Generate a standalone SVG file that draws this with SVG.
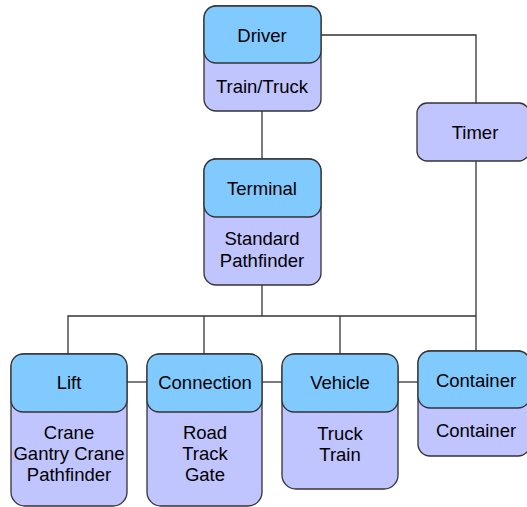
<svg xmlns="http://www.w3.org/2000/svg" width="527" height="507" viewBox="0 0 527 507">
<style>
.hd{fill:#80CAFF;stroke:#333;stroke-width:1.3}
.bd{fill:#C0C4FF;stroke:#333;stroke-width:1.3}
.ln{stroke:#333;stroke-width:1.3;fill:none}
text{font-family:"Liberation Sans",Arial,sans-serif;font-size:18.5px;fill:#000;text-anchor:middle;dominant-baseline:central}
</style>
<rect width="527" height="507" fill="#fff"/>
<g id="connectors">
<path class="ln" d="M321 35H476V103"/>
<path class="ln" d="M476 161V351"/>
<path class="ln" d="M262 111V159"/>
<path class="ln" d="M262 285V316"/>
<path class="ln" d="M68 354V316H476"/>
<path class="ln" d="M204 354V316"/>
<path class="ln" d="M340 354V316"/>
<path class="ln" d="M127 382H147"/>
<path class="ln" d="M262 382H282"/>
<path class="ln" d="M398 382H418"/>
</g>
<g id="driver">
<rect class="bd" x="204" y="6" width="117" height="105" rx="12"/>
<rect class="hd" x="204" y="6" width="117" height="57" rx="12"/>
<text x="262" y="35">Driver</text>
<text x="262" y="86">Train/Truck</text>
</g>
<g id="timer">
<rect class="bd" x="417" y="103" width="112" height="58" rx="10"/>
<text x="475" y="132">Timer</text>
</g>
<g id="terminal">
<rect class="bd" x="204" y="159" width="117" height="126" rx="12"/>
<rect class="hd" x="204" y="159" width="117" height="58" rx="12"/>
<text x="262" y="188">Terminal</text>
<text x="262" y="238">Standard</text>
<text x="262" y="260">Pathfinder</text>
</g>
<g id="lift">
<rect class="bd" x="11" y="354" width="116" height="152" rx="14"/>
<rect class="hd" x="11" y="354" width="116" height="58" rx="12"/>
<text x="69" y="382">Lift</text>
<text x="69" y="432">Crane</text>
<text x="69" y="453">Gantry Crane</text>
<text x="69" y="474">Pathfinder</text>
</g>
<g id="connection">
<rect class="bd" x="147" y="354" width="115" height="152" rx="14"/>
<rect class="hd" x="147" y="354" width="115" height="58" rx="12"/>
<text x="205" y="382">Connection</text>
<text x="205" y="432">Road</text>
<text x="205" y="453">Track</text>
<text x="205" y="474">Gate</text>
</g>
<g id="vehicle">
<rect class="bd" x="282" y="354" width="116" height="135" rx="14"/>
<rect class="hd" x="282" y="354" width="116" height="58" rx="12"/>
<text x="340" y="382">Vehicle</text>
<text x="340" y="433">Truck</text>
<text x="340" y="454">Train</text>
</g>
<g id="container">
<rect class="bd" x="418" y="351" width="112" height="105" rx="12"/>
<rect class="hd" x="418" y="351" width="112" height="57" rx="12"/>
<text x="476" y="380">Container</text>
<text x="476" y="430">Container</text>
</g>
</svg>
